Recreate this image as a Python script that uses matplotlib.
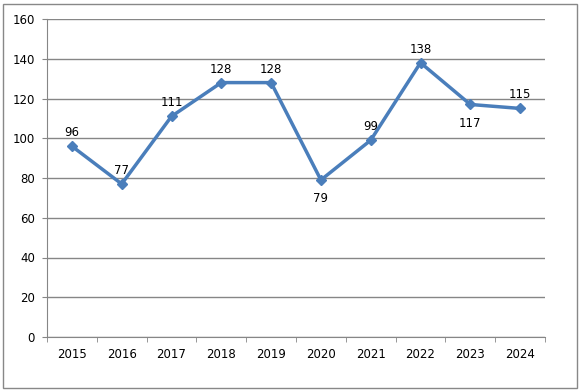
import matplotlib.pyplot as plt
from matplotlib.patches import Rectangle
import numpy as np

years = ["2015", "2016", "2017", "2018", "2019", "2020", "2021", "2022", "2023", "2024"]
values = [96, 77, 111, 128, 128, 79, 99, 138, 117, 115]
# labels drawn under the point for these years
below = ["2020", "2023"]


def main():
    fig = plt.figure(figsize=(5.84, 3.92), dpi=100)
    ax = fig.add_axes([47 / 584, 1 - 337 / 392, 498 / 584, 318 / 392])

    # outer frame like the excel chart border
    fig.patches.append(Rectangle((3 / 584, 4 / 392), 574 / 584, 384 / 392,
                                 transform=fig.transFigure, fill=False,
                                 edgecolor="#888888", linewidth=1.0))

    x = np.arange(len(years))
    ax.plot(x, values, color="#4A7EBB", linewidth=2.5, marker="D",
            markersize=5.5, zorder=3)

    for xi, yr, v in zip(x, years, values):
        if yr in below:
            ax.annotate(str(v), (xi, v), xytext=(0, -9), textcoords="offset points",
                        ha="center", va="top", fontsize=8.5)
        else:
            ax.annotate(str(v), (xi, v), xytext=(0, 5), textcoords="offset points",
                        ha="center", va="bottom", fontsize=8.5)

    ax.set_xlim(-0.5, len(years) - 0.5)
    ax.set_ylim(0, 160)
    ax.set_yticks(np.arange(0, 161, 20))
    ax.yaxis.grid(True, color="#868686", linewidth=1.0)
    ax.set_axisbelow(True)

    ax.set_xticks(x)
    ax.set_xticklabels(years, fontsize=8.5)
    ax.set_xticks(np.arange(-0.5, len(years), 1), minor=True)
    ax.tick_params(axis="x", which="major", length=0, pad=8)
    ax.tick_params(axis="x", which="minor", length=3.6, color="#868686")
    ax.tick_params(axis="y", length=3.6, color="#868686", labelsize=8.5, pad=5)

    for s in ["top", "right"]:
        ax.spines[s].set_visible(False)
    for s in ["left", "bottom"]:
        ax.spines[s].set_color("#868686")

    fig.savefig("out.png", dpi=100)


if __name__ == '__main__':
    main()
